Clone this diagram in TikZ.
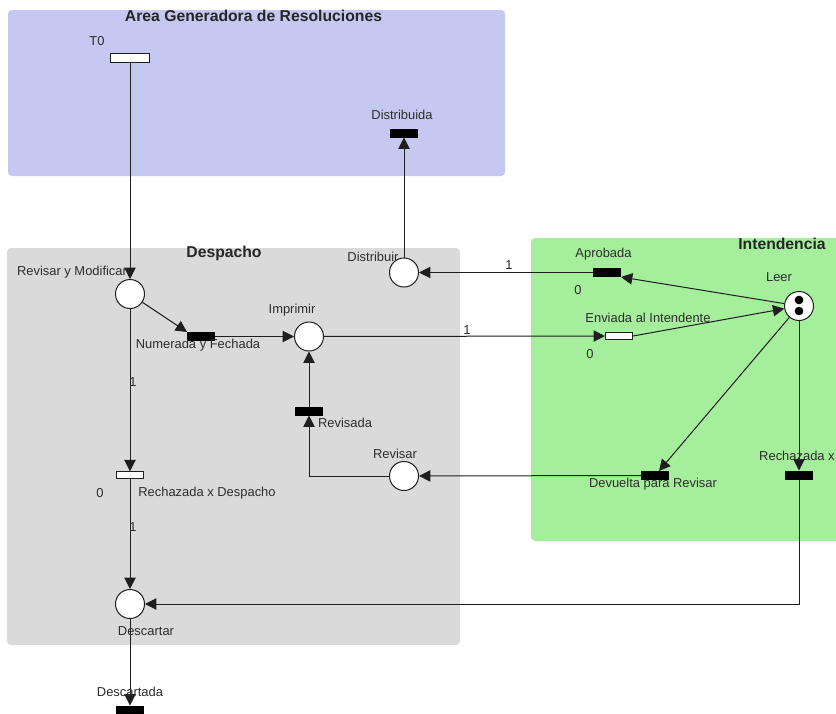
\documentclass[tikz,border=0pt]{standalone}
\usepackage{fontspec}
\setmainfont{Liberation Sans}
\usetikzlibrary{arrows.meta}
\definecolor{bluezone}{RGB}{197,200,240}
\definecolor{greyzone}{RGB}{218,218,218}
\definecolor{greenzone}{RGB}{165,238,155}
\definecolor{inkline}{RGB}{30,30,30}
\definecolor{labelink}{RGB}{45,45,45}
\tikzset{
  zone/.style={draw=none,rounded corners=3pt},
  place/.style={circle,draw=inkline,fill=white,line width=0.75pt,minimum size=21.75pt,inner sep=0pt},
  fulltrans/.style={rectangle,draw=black,fill=black,line width=0.5pt,minimum width=20.5pt,minimum height=6.25pt,inner sep=0pt},
  emptytrans/.style={rectangle,draw=inkline,fill=white,line width=0.6pt,minimum width=20.5pt,minimum height=5pt,inner sep=0pt},
  token/.style={circle,fill=black,minimum size=6.5pt,inner sep=0pt},
  arc/.style={draw=inkline,line width=0.75pt,-{Triangle[length=8.5pt,width=8.5pt]}},
  lbl/.style={inner sep=0pt,text=labelink,font=\fontsize{9.7pt}{11pt}\selectfont},
  title/.style={inner sep=0pt,text=black!85,font=\fontsize{11.8pt}{13pt}\selectfont\bfseries}
}
\begin{document}
\begin{tikzpicture}[x=0.75pt,y=-0.75pt]
\useasboundingbox (0,0) rectangle (836,714);
\fill[white] (0,0) rectangle (836,714);
% zones
\fill[zone,bluezone] (8,10) rectangle (505,176);
\fill[zone,greyzone] (7,248) rectangle (460,645);
\fill[zone,greenzone] (531,238) rectangle (842,541);
% net nodes
\node[emptytrans,minimum width=29.5pt,minimum height=7pt] (t0) at (130,58) {};
\node[fulltrans] (distribuida) at (404,133) {};
\node[place] (distribuir) at (404,272.5) {};
\node[fulltrans] (aprobada) at (607,272.5) {};
\node[place] (leer) at (799,306) {};
\node[emptytrans] (enviada) at (619,336) {};
\node[place] (imprimir) at (309,336.5) {};
\node[fulltrans] (numerada) at (201,336.5) {};
\node[place] (revmod) at (130,294) {};
\node[fulltrans] (revisada) at (309,411) {};
\node[place] (revisar) at (404,476) {};
\node[fulltrans] (devuelta) at (655,475.5) {};
\node[fulltrans] (rechazada) at (799,475) {};
\node[emptytrans] (rechdesp) at (130,475) {};
\node[place] (descartar) at (130,604) {};
\node[fulltrans] (descartada) at (130,710) {};
\node[token] (tokena) at (799,300) {};
\node[token] (tokenb) at (799,311) {};
\coordinate (devtip) at ([xshift=3pt]devuelta.north);
% connectors
\draw[arc] (t0) -- (revmod);
\draw[arc] (distribuir) -- (distribuida);
\draw[arc] (aprobada) -- (distribuir);
\draw[arc] (leer) -- (aprobada.south east);
\draw[arc] (enviada.east) -- (leer);
\draw[arc] (imprimir) -- (enviada);
\draw[arc] (revmod) -- (numerada.north west);
\draw[arc] (numerada) -- (imprimir);
\draw[arc] (revisada) -- (imprimir);
\draw[arc] (revisar) -| (revisada);
\draw[arc] (devuelta) -- (revisar);
\draw[arc] (leer) -- (devtip);
\draw[arc] (leer) -- (rechazada);
\draw[arc] (rechazada) |- (descartar);
\draw[arc] (revmod) -- (rechdesp);
\draw[arc] (rechdesp) -- (descartar);
\draw[arc] (descartar) -- (descartada);
% labels
\node[title] (ltitlea) at (253.5,16) {Area Generadora de Resoluciones};
\node[title] (ltitleb) at (224,253) {Despacho};
\node[title] (ltitlec) at (782,244) {Intendencia};
\node[lbl] (l1) at (97,41) {T0};
\node[lbl] (l2) at (402,115) {Distribuida};
\node[lbl] (l3) at (373,257) {Distribuir};
\node[lbl] (l4) at (509,265) {1};
\node[lbl] (l5) at (603.5,254) {Aprobada};
\node[lbl] (l6) at (578,290) {0};
\node[lbl] (l7) at (779,277) {Leer};
\node[lbl] (l8) at (648,318) {Enviada al Intendente};
\node[lbl] (l9) at (590,354) {0};
\node[lbl] (l10) at (72,272) {Revisar y Modificar};
\node[lbl] (l11) at (292,310) {Imprimir};
\node[lbl] (l12) at (198,345) {Numerada y Fechada};
\node[lbl] (l13) at (467,330) {1};
\node[lbl] (l14) at (133,382) {1};
\node[lbl] (l15) at (345,423) {Revisada};
\node[lbl] (l16) at (395,454) {Revisar};
\node[lbl] (l17) at (653,484) {Devuelta para Revisar};
\node[lbl,anchor=east] (l18) at (835,456) {Rechazada x};
\node[lbl] (l19) at (100,493) {0};
\node[lbl] (l20) at (207,493) {Rechazada x Despacho};
\node[lbl] (l21) at (133,527) {1};
\node[lbl] (l22) at (146,631) {Descartar};
\node[lbl] (l23) at (130,692) {Descartada};
\end{tikzpicture}
\end{document}
